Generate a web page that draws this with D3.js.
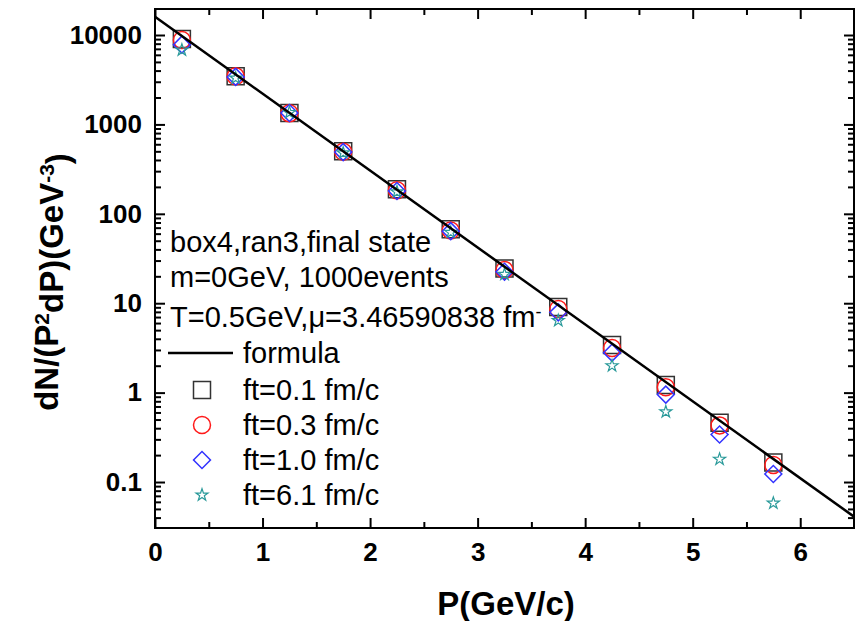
<!DOCTYPE html>
<html>
<head>
<meta charset="utf-8">
<script src="https://cdn.jsdelivr.net/npm/d3@7"></script>
<style>
  body { margin: 0; background: #fff; }
  svg { font-family: "Liberation Sans", Arial, sans-serif; }
</style>
</head>
<body>
<svg width="863" height="621"></svg>
<script>
// momentum bins (GeV/c)
let pBins = [0.25, 0.75, 1.25, 1.75, 2.25, 2.75, 3.25, 3.75, 4.25, 4.75, 5.25, 5.75];

// spectra, one per freeze-out time
let ft01 = [9000, 3450, 1340, 500, 188, 67, 24.5, 9.1, 3.4, 1.22, 0.46, 0.165];
let ft03 = [8800, 3450, 1330, 495, 183, 65, 23.5, 8.6, 3.15, 1.15, 0.43, 0.155];
let ft10 = [7800, 3400, 1340, 490, 180, 64, 22.5, 7.9, 2.8, 0.95, 0.34, 0.123];
let ft61 = [6800, 3300, 1360, 480, 176, 62, 21, 6.4, 2.0, 0.61, 0.18, 0.058];

// formula line, end points
let formulaP = [0, 6.5];
let formulaY = [16000, 0.041];

let xTicks = [0, 1, 2, 3, 4, 5, 6];
let yTicks = [0.1, 1, 10, 100, 1000, 10000];

let svg = d3.select("svg");
let margin = { top: 9, right: 9, bottom: 93, left: 155 },
    width = +svg.attr("width") - margin.left - margin.right,
    height = +svg.attr("height") - margin.top - margin.bottom;

let x = d3.scaleLinear().domain([0, 6.5]).range([0, width]);
let y = d3.scaleLog().domain([0.0306, 19540]).range([height, 0]);

let g = svg.append("g")
    .attr("transform", "translate(" + margin.left + "," + margin.top + ")");

// minor ticks
let xMinor = d3.range(0.5, 6.5, 1);
let yMinor = [];
[0.01, 0.1, 1, 10, 100, 1000, 10000].forEach(dec => {
    for (let k = 2; k <= 9; k++) {
        let v = dec * k;
        if (v >= y.domain()[0] && v <= y.domain()[1]) yMinor.push(v);
    }
});

function tickStyle(sel) {
    sel.select(".domain").remove();
    sel.selectAll("line").attr("stroke", "#000").attr("stroke-width", 2);
}

// bottom axis
g.append("g")
    .attr("transform", "translate(0," + height + ")")
    .call(d3.axisBottom(x).tickValues(xTicks).tickSize(-10).tickPadding(15).tickFormat(d3.format("d")))
    .call(tickStyle)
    .selectAll("text")
    .style("font-size", "26px").style("font-weight", "bold").attr("fill", "#000");
g.append("g")
    .attr("transform", "translate(0," + height + ")")
    .call(d3.axisBottom(x).tickValues(xMinor).tickSize(-6).tickFormat(""))
    .call(tickStyle);
// top axis
g.append("g")
    .call(d3.axisTop(x).tickValues(xTicks).tickSize(-10).tickFormat(""))
    .call(tickStyle);
g.append("g")
    .call(d3.axisTop(x).tickValues(xMinor).tickSize(-6).tickFormat(""))
    .call(tickStyle);

// left axis
g.append("g")
    .call(d3.axisLeft(y).tickValues(yTicks).tickSize(-10).tickPadding(13).tickFormat(d => String(d)))
    .call(tickStyle)
    .selectAll("text")
    .style("font-size", "26px").style("font-weight", "bold").attr("fill", "#000");
g.append("g")
    .call(d3.axisLeft(y).tickValues(yMinor).tickSize(-6).tickFormat(""))
    .call(tickStyle);
// right axis
g.append("g")
    .attr("transform", "translate(" + width + ",0)")
    .call(d3.axisRight(y).tickValues(yTicks).tickSize(-10).tickFormat(""))
    .call(tickStyle);
g.append("g")
    .attr("transform", "translate(" + width + ",0)")
    .call(d3.axisRight(y).tickValues(yMinor).tickSize(-6).tickFormat(""))
    .call(tickStyle);

// frame
g.append("rect")
    .attr("width", width).attr("height", height)
    .attr("fill", "none").attr("stroke", "#000").attr("stroke-width", 2);

// legend / info text (rows in px, plot coords)
let info = g.append("g").style("font-size", "29px").attr("fill", "#000");
info.append("text").attr("x", 15).attr("y", 233).attr("dy", "0.35em").text("box4,ran3,final state");
info.append("text").attr("x", 15).attr("y", 268).attr("dy", "0.35em").text("m=0GeV, 1000events");
let tLine = info.append("text").attr("x", 15).attr("y", 308).attr("dy", "0.35em");
tLine.append("tspan").text("T=0.5GeV,\u03bc=3.46590838 fm");
tLine.append("tspan").attr("dy", "-0.5em").style("font-size", "18px").text("-");

let legendX = 88;
let legendRows = [381, 416, 451, 486];
let legendLabels = ["ft=0.1 fm/c", "ft=0.3 fm/c", "ft=1.0 fm/c", "ft=6.1 fm/c"];

// series definitions
let series = [
    { data: ft01, color: "#333", sym: d3.symbolSquare, size: 289, rot: 0, sw: 1.5 },
    { data: ft03, color: "#ff1a1a", sym: d3.symbolCircle, size: 227, rot: 0, sw: 1.5 },
    { data: ft10, color: "#3333ff", sym: d3.symbolSquare, size: 144, rot: 45, sw: 1.5 },
    { data: ft61, color: "#2a9a9a", sym: d3.symbolStar, size: 45, rot: 0, sw: 1.2 }
];

// formula legend line
let fLegY = 344;
g.append("line")
    .attr("x1", 13).attr("x2", 78).attr("y1", fLegY).attr("y2", fLegY)
    .attr("stroke", "#000").attr("stroke-width", 2.5);
info.append("text").attr("x", legendX).attr("y", fLegY).attr("dy", "0.35em").text("formula");

legendLabels.forEach((label, i) => {
    let s = series[i];
    let ly = legendRows[i];
    g.append("path")
        .attr("d", d3.symbol().type(s.sym).size(s.size)())
        .attr("transform", "translate(47," + ly + ") rotate(" + s.rot + ")")
        .attr("fill", "none").attr("stroke", s.color).attr("stroke-width", s.sw);
    info.append("text").attr("x", legendX).attr("y", ly).attr("dy", "0.35em").text(label);
});

// data markers
series.forEach(s => {
    g.selectAll(null)
        .data(pBins.map((p, i) => [p, s.data[i]]))
        .enter()
        .append("path")
        .attr("d", d3.symbol().type(s.sym).size(s.size)())
        .attr("transform", d => "translate(" + x(d[0]) + "," + y(d[1]) + ") rotate(" + s.rot + ")")
        .attr("fill", "none").attr("stroke", s.color).attr("stroke-width", s.sw);
});

// formula line
g.append("path")
    .datum(formulaP.map((p, i) => [p, formulaY[i]]))
    .attr("fill", "none").attr("stroke", "#000").attr("stroke-width", 2.5)
    .attr("d", d3.line().x(d => x(d[0])).y(d => y(d[1])));

// axis titles
svg.append("text")
    .attr("x", 506).attr("y", 615)
    .attr("text-anchor", "middle")
    .style("font-size", "33px").style("font-weight", "bold")
    .text("P(GeV/c)");

let yt = svg.append("text")
    .attr("transform", "translate(58,282) rotate(-90)")
    .attr("text-anchor", "middle")
    .style("font-size", "33px").style("font-weight", "bold");
yt.append("tspan").text("dN/(P");
yt.append("tspan").attr("dy", "-0.45em").style("font-size", "21px").text("2");
yt.append("tspan").attr("dy", "0.45em").text("dP)(GeV");
yt.append("tspan").attr("dy", "-0.45em").style("font-size", "21px").text("-3");
yt.append("tspan").attr("dy", "0.45em").text(")");
</script>
</body>
</html>
